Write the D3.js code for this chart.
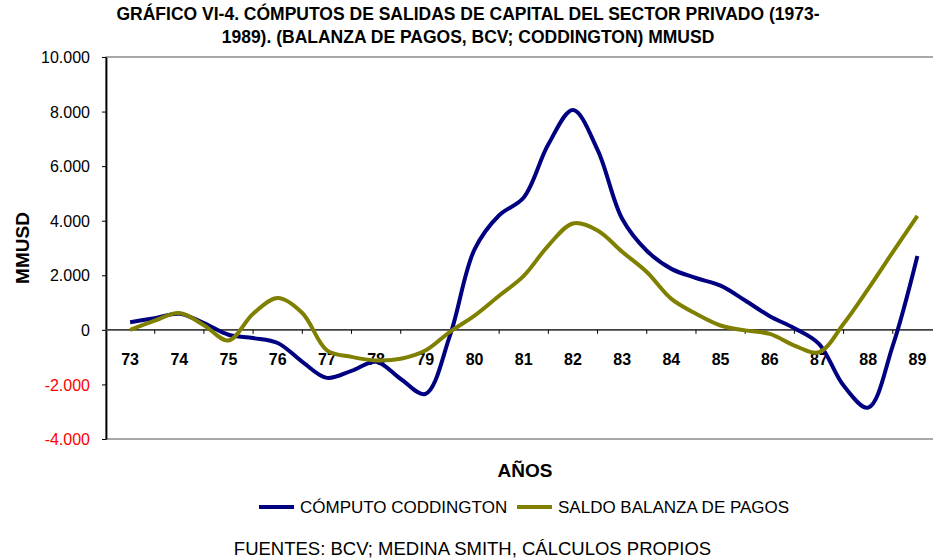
<!DOCTYPE html>
<html lang="es">

<head>
    <meta charset="UTF-8">
    <title>Gráfico VI-4</title>

    <script src="https://d3js.org/d3.v7.min.js"></script>

    <style>
        body {
            margin: 0;
            background: #ffffff;
        }

        svg {
            display: block;
            font-family: "Liberation Sans", Arial, sans-serif;
        }

        .title {
            font-size: 17.5px;
            font-weight: bold;
        }

        .yAxis text {
            font-size: 16px;
        }

        .yearLabel {
            font-size: 16px;
            font-weight: bold;
        }

        .axisTitle {
            font-size: 19px;
            font-weight: bold;
        }

        .legendText {
            font-size: 17px;
        }

        .source {
            font-size: 18.5px;
        }
    </style>

</head>

<body>
    <svg width="933" height="558"></svg>

    <script>
        // categorias del eje X
        const years = ['73', '74', '75', '76', '77', '78', '79', '80', '81',
            '82', '83', '84', '85', '86', '87', '88', '89'];

        // puntos semestrales
        const periods = [73, 73.5, 74, 74.5, 75, 75.5, 76, 76.5, 77, 77.5, 78, 78.5,
            79, 79.5, 80, 80.5, 81, 81.5, 82, 82.5, 83, 83.5, 84, 84.5, 85, 85.5,
            86, 86.5, 87, 87.5, 88, 88.5, 89];

        const coddington = [280, 430, 590, 250, -180, -300, -480, -1170, -1760, -1500,
            -1170, -1800, -2350, -210, 2950, 4200, 4850, 6800, 8060, 6600, 4070, 2900,
            2235, 1900, 1620, 1075, 500, 60, -510, -2040, -2850, -575, 2710];

        const saldoBalanza = [0, 340, 620, 170, -390, 590, 1170, 620, -750, -990,
            -1120, -1060, -760, -70, 520, 1250, 1980, 3090, 3900, 3640, 2860, 2120,
            1135, 590, 160, -20, -150, -575, -820, 220, 1500, 2850, 4180];

        const yTicks = [-4000, -2000, 0, 2000, 4000, 6000, 8000, 10000];

        const seriesNames = ['CÓMPUTO CODDINGTON', 'SALDO BALANZA DE PAGOS'];
        const seriesColors = ['#000080', '#808000'];

        let svgContainer = d3.select("svg");

        const plotLeft = 106, plotRight = 942, plotTop = 57, plotBottom = 439;

        let xBand = d3.scaleBand().domain(years).range([plotLeft - 0.5, plotRight]);
        const half = xBand.bandwidth() / 2;
        let xPos = d3.scaleLinear()
            .domain([+years[0], +years[years.length - 1]])
            .range([xBand(years[0]) + half, xBand(years[years.length - 1]) + half]);
        let y = d3.scaleLinear().domain([-4000, 10000]).range([plotBottom, plotTop]);

        const locale = d3.formatLocale({
            decimal: ",", thousands: ".", grouping: [3],
            currency: ["", ""], minus: "-"
        });
        const fmt = locale.format(",.0f");

        // titulo
        svgContainer.append("text").attr("class", "title")
            .attr("x", 468).attr("y", 20).attr("text-anchor", "middle")
            .text("GRÁFICO VI-4. CÓMPUTOS DE SALIDAS DE CAPITAL DEL SECTOR PRIVADO (1973-");
        svgContainer.append("text").attr("class", "title")
            .attr("x", 468).attr("y", 43).attr("text-anchor", "middle")
            .text("1989). (BALANZA DE PAGOS, BCV; CODDINGTON) MMUSD");

        // marco del area de trazado
        svgContainer.append("rect")
            .attr("x", plotLeft).attr("y", plotTop)
            .attr("width", plotRight - plotLeft).attr("height", plotBottom - plotTop)
            .attr("fill", "none")
            .attr("stroke", "#8c8c8c")
            .attr("stroke-width", 1.5);

        // eje Y
        let yAxis = svgContainer.append("g").attr("class", "yAxis")
            .attr("transform", "translate(" + plotLeft + ",0)")
            .call(d3.axisLeft(y).tickValues(yTicks).tickSize(4)
                .tickSizeOuter(0).tickPadding(12).tickFormat(fmt));
        yAxis.select(".domain").attr("stroke", "#000").attr("stroke-width", 1.8);
        yAxis.selectAll(".tick line").attr("stroke", "#000");
        yAxis.selectAll(".tick text")
            .attr("fill", d => d < 0 ? "#ff0000" : "#000")
            .attr("dy", "0.35em");

        // linea del cero con marcas de categoria
        let zeroAxis = svgContainer.append("g");
        zeroAxis.append("line")
            .attr("x1", plotLeft).attr("x2", plotRight)
            .attr("y1", y(0)).attr("y2", y(0))
            .attr("stroke", "#404040").attr("stroke-width", 1.6);
        zeroAxis.selectAll(".catTick")
            .data(years.slice(1))
            .enter()
            .append("line")
            .attr("x1", d => xBand(d)).attr("x2", d => xBand(d))
            .attr("y1", y(0)).attr("y2", y(0) + 4)
            .attr("stroke", "#000").attr("stroke-width", 1);

        svgContainer.append("g")
            .selectAll("text")
            .data(years)
            .enter()
            .append("text")
            .attr("class", "yearLabel")
            .attr("x", d => xBand(d) + half)
            .attr("y", y(0) + 35)
            .attr("text-anchor", "middle")
            .text(d => d);

        // series
        const line = d3.line()
            .x((d, i) => xPos(periods[i]))
            .y(d => y(d))
            .curve(d3.curveCatmullRom.alpha(0.5));

        [coddington, saldoBalanza].forEach(function (values, k) {
            svgContainer.append("path")
                .datum(values)
                .attr("d", line)
                .attr("fill", "none")
                .attr("stroke", seriesColors[k])
                .attr("stroke-width", 4)
                .attr("stroke-linejoin", "round");
        });

        // titulos de ejes
        svgContainer.append("text").attr("class", "axisTitle")
            .attr("transform", "translate(28.5," + (plotTop + plotBottom) / 2 + ") rotate(-90)")
            .attr("text-anchor", "middle")
            .text("MMUSD");
        svgContainer.append("text").attr("class", "axisTitle")
            .attr("x", 525).attr("y", 477).attr("text-anchor", "middle")
            .text("AÑOS");

        // leyenda
        const legendX = [259, 517];
        let legend = svgContainer.append("g");
        seriesNames.forEach(function (name, k) {
            legend.append("line")
                .attr("x1", legendX[k]).attr("x2", legendX[k] + 35)
                .attr("y1", 507).attr("y2", 507)
                .attr("stroke", seriesColors[k]).attr("stroke-width", 4);
            legend.append("text").attr("class", "legendText")
                .attr("x", legendX[k] + 41).attr("y", 513)
                .text(name);
        });

        // fuente
        svgContainer.append("text").attr("class", "source")
            .attr("x", 472.5).attr("y", 555).attr("text-anchor", "middle")
            .text("FUENTES: BCV; MEDINA SMITH, CÁLCULOS PROPIOS");
    </script>
</body>

</html>
